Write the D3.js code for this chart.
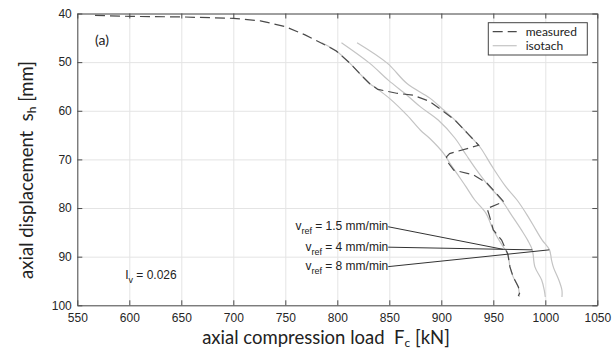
<!DOCTYPE html>
<html>
<head>
<meta charset="utf-8">
<script src="https://cdn.jsdelivr.net/npm/d3@7/dist/d3.min.js"></script>
<style>
  body { margin: 0; background: #fff; }
  svg { display: block; }
  .axis text { font-family: "Liberation Sans", Arial, sans-serif; font-size: 12px; fill: #262626; }
  .axis path, .axis line { stroke: #4d4d4d; }
  .grid line { stroke: #e4e4e4; }
  .grid path { display: none; }
  .title { white-space: pre; }
</style>
</head>
<body>
<script>
// tick values
const loadTicks = [550, 600, 650, 700, 750, 800, 850, 900, 950, 1000, 1050];
const dispTicks = [40, 50, 60, 70, 80, 90, 100];

// measured curve, load [kN] / displacement [mm]
const measuredLoad = [567, 601, 650, 700, 726, 750, 769, 785, 799, 812, 824, 831, 839,
  857, 873, 889, 900, 913, 925, 936, 908, 905, 907, 912, 931, 944, 953, 960,
  944, 946, 950, 958, 964, 966, 969, 974, 976, 974];
const measuredDisp = [40.4, 40.6, 40.7, 41.0, 41.5, 42.7, 44.4, 46.1, 47.7, 50.2, 52.9, 54.4, 55.6,
  56.4, 56.8, 58.1, 59.8, 61.9, 64.6, 67.1, 68.8, 69.5, 70.8, 72.2, 73.2, 74.9, 77.0, 78.7,
  80.1, 81.4, 84.5, 86.6, 89.5, 92.1, 94.1, 96.2, 97.2, 98.1];

// isotachs
const iso15Load = [785, 799, 812, 824, 831, 839, 851, 867, 880, 889, 902, 908, 916, 924, 932, 943, 950, 959, 964, 966, 969, 974, 975];
const iso15Disp = [46.0, 47.7, 50.2, 52.9, 54.4, 55.6, 57.6, 60.9, 64.0, 65.7, 68.7, 70.7, 73.2, 75.7, 78.3, 81.1, 84.5, 87.8, 89.5, 92.1, 94.1, 96.2, 98.3];
const iso4Load = [804, 831, 849, 867, 880, 897, 913, 924, 934, 945, 958, 968, 977, 983, 987.5, 990, 996.5, 999, 1000];
const iso4Disp = [46.0, 50.2, 53.7, 56.8, 59.2, 61.9, 65.6, 69.1, 72.2, 75.3, 78.4, 81.6, 84.5, 86.6, 88.6, 92.1, 94.8, 96.9, 98.3];
const iso8Load = [819, 848, 867, 889, 902, 913, 925, 937, 949, 962, 973, 983, 991, 997, 1004, 1006, 1008, 1013, 1016, 1016];
const iso8Disp = [46.0, 50.2, 54.4, 57.4, 59.8, 61.9, 64.6, 67.4, 71.5, 75.6, 78.4, 81.6, 84.5, 86.6, 88.6, 90.7, 92.3, 94.8, 96.9, 98.3];

// rate annotations
const rateLabels = ['1.5', '4', '8'];
const rateLabelLoad = 849;
const rateLabelDisp = [83.85, 88.05, 92.05];
const rateTargetLoad = [959.6, 987.5, 1003.8];
const rateTargetDisp = [88.5, 88.6, 88.6];

const width = 616, height = 351;
const margin = {top: 13.5, right: 18.7, bottom: 45.7, left: 77.3};
const w = width - margin.left - margin.right;
const h = height - margin.top - margin.bottom;

const svg = d3.select('body').append('svg').attr('width', width).attr('height', height);
const g = svg.append('g').attr('transform', `translate(${margin.left},${margin.top})`);

const x = d3.scaleLinear().domain([550, 1050]).range([0, w]);
const y = d3.scaleLinear().domain([40, 100]).range([0, h]);

// grid
g.append('g').attr('class', 'grid')
  .call(d3.axisBottom(x).tickValues(loadTicks).tickSize(h).tickFormat(''));
g.append('g').attr('class', 'grid')
  .call(d3.axisRight(y).tickValues(dispTicks).tickSize(w).tickFormat(''));

// curves
const line = d3.line().x(d => x(d[0])).y(d => y(d[1]));
const isoLine = d3.line().x(d => x(d[0])).y(d => y(d[1])).curve(d3.curveCatmullRom.alpha(0.5));
const zip = (a, b) => a.map((v, i) => [v, b[i]]);

[[iso15Load, iso15Disp], [iso4Load, iso4Disp], [iso8Load, iso8Disp]].forEach(([l, s]) => {
  g.append('path')
    .attr('d', isoLine(zip(l, s)))
    .attr('fill', 'none')
    .attr('stroke', '#c4c4c4')
    .attr('stroke-width', 1.2);
});

g.append('path')
  .attr('d', line(zip(measuredLoad, measuredDisp)))
  .attr('fill', 'none')
  .attr('stroke', '#4a4a4a')
  .attr('stroke-width', 1.2)
  .attr('stroke-dasharray', '10,5');

// axes, ticks inward
const fmt = d3.format('d');
g.append('g').attr('class', 'axis').attr('transform', `translate(0,${h})`)
  .call(d3.axisBottom(x).tickValues(loadTicks).tickFormat(fmt).tickSizeInner(-5).tickSizeOuter(0).tickPadding(8.5));
g.append('g').attr('class', 'axis')
  .call(d3.axisLeft(y).tickValues(dispTicks).tickFormat(fmt).tickSizeInner(-5).tickSizeOuter(0).tickPadding(5.5));
g.append('g').attr('class', 'axis')
  .call(d3.axisTop(x).tickValues(loadTicks).tickSizeInner(-5).tickSizeOuter(0).tickFormat(''));
g.append('g').attr('class', 'axis').attr('transform', `translate(${w},0)`)
  .call(d3.axisRight(y).tickValues(dispTicks).tickSizeInner(-5).tickSizeOuter(0).tickFormat(''));

// rate annotations
rateLabels.forEach((r, i) => {
  g.append('line')
    .attr('x1', x(rateLabelLoad)).attr('y1', y(rateLabelDisp[i]))
    .attr('x2', x(rateTargetLoad[i])).attr('y2', y(rateTargetDisp[i]))
    .attr('stroke', '#333').attr('stroke-width', 1);
  const t = g.append('text')
    .attr('x', x(rateLabelLoad)).attr('y', y(rateLabelDisp[i]))
    .attr('dy', '0.3em')
    .attr('text-anchor', 'end')
    .attr('font-family', '"Liberation Sans", Arial, sans-serif')
    .attr('font-size', 12).attr('fill', '#222');
  t.append('tspan').text('v');
  t.append('tspan').attr('dy', 4).attr('font-size', 9).text('ref');
  t.append('tspan').attr('dy', -4).text(` = ${r} mm/min`);
});

const iv = g.append('text')
  .attr('x', x(596)).attr('y', y(93.8)).attr('dy', '0.36em')
  .attr('font-family', '"Liberation Sans", Arial, sans-serif')
  .attr('font-size', 12).attr('fill', '#222');
iv.append('tspan').text('I');
iv.append('tspan').attr('dy', 4).attr('font-size', 9).text('v');
iv.append('tspan').attr('dy', -4).text(' = 0.026');

g.append('text')
  .attr('x', x(567)).attr('y', y(45.55)).attr('dy', '0.35em')
  .attr('font-family', 'Lato, sans-serif').attr('font-size', 14).attr('fill', '#222')
  .text('(a)');

// legend
const leg = g.append('g').attr('transform', `translate(${w - 109},${9.2})`);
leg.append('rect').attr('width', 99).attr('height', 32.3)
  .attr('fill', '#fff').attr('stroke', '#444').attr('stroke-width', 1);
const legItems = [
  {name: 'measured', stroke: '#4a4a4a', dash: '10,5'},
  {name: 'isotach', stroke: '#c4c4c4', dash: null}
];
legItems.forEach((d, i) => {
  const yy = 9 + i * 14;
  leg.append('line').attr('x1', 4.4).attr('x2', 28.4).attr('y1', yy).attr('y2', yy)
    .attr('stroke', d.stroke).attr('stroke-width', 1.2)
    .attr('stroke-dasharray', d.dash);
  leg.append('text').attr('x', 37.4).attr('y', yy).attr('dy', '0.35em')
    .attr('font-family', 'Lato, sans-serif').attr('font-size', 12).attr('fill', '#222')
    .text(d.name);
});

// axis titles
const xt = svg.append('text').attr('class', 'title')
  .attr('x', 326).attr('y', 344)
  .attr('text-anchor', 'middle')
  .attr('font-family', 'Lato, sans-serif').attr('font-size', 18.5).attr('fill', '#222');
xt.append('tspan').text('axial compression load  F');
xt.append('tspan').attr('dy', 3).attr('font-size', 12).text('c');
xt.append('tspan').attr('dy', -3).text(' [kN]');

const yt = svg.append('text').attr('class', 'title')
  .attr('transform', 'translate(33,170) rotate(-90)')
  .attr('text-anchor', 'middle')
  .attr('font-family', 'Lato, sans-serif').attr('font-size', 18.5).attr('fill', '#222');
yt.append('tspan').text('axial displacement  s');
yt.append('tspan').attr('dy', 3).attr('font-size', 12).text('h');
yt.append('tspan').attr('dy', -3).text(' [mm]');
</script>
</body>
</html>
